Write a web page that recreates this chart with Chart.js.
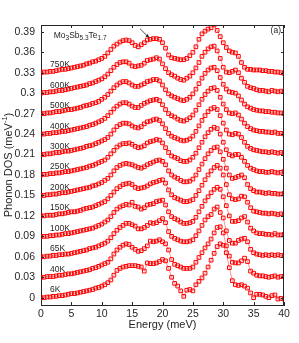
<!DOCTYPE html>
<html><head><meta charset="utf-8">
<script src="https://cdn.jsdelivr.net/npm/chart.js@4.4.1/dist/chart.umd.min.js"></script>
<style>html,body{margin:0;padding:0;background:#fff;}canvas{display:block;}</style>
</head><body>
<canvas id="c" width="299" height="343"></canvas>
<script>
const energy = [0,0.5,1,1.5,2,2.5,3,3.5,4,4.5,5,5.5,6,6.5,7,7.5,8,8.5,9,9.5,10,10.5,11,11.5,12,12.5,13,13.5,
  14,14.5,15,15.5,16,16.5,17,17.5,18,18.5,19,19.5,20,20.5,21,21.5,22,22.5,23,23.5,24,24.5,25,25.5,26,26.5,27,27.5,
  28,28.5,29,29.5,30,30.5,31,31.5,32,32.5,33,33.5,34,34.5,35,35.5,36,36.5,37,37.5,38,38.5,39,39.5,40];
const temperatures = ['6K','40K','65K','100K','150K','200K','250K','300K','400K','500K','600K','750K'];
const offsets = [0,0.03,0.06,0.09,0.12,0.15,0.18,0.21,0.24,0.27,0.30,0.33];

const dos6K = [0,0,.001,.001,.002,.002,.003,.003,.004,.005,.006,.006,.007,.008,.009,.010,.011,.012,.014,.015,.017,.019,.022,.026,.033,.040,.043,.045,
 .046,.047,.047,.047,.046,.045,.039,.051,.050,.050,.051,.053,.056,.054,.043,.030,.021,.017,.010,.002,.011,.012,.010,.019,.024,.029,.036,.045,.055,.065,
 .075,.079,.077,.066,.044,.025,.019,.018,.019,.017,.014,.007,.000,.005,.005,.004,.002,.000,.003,.004,-.002,-.001,-.002];
const dos40K = [0,0,.001,.001,.001,.002,.003,.003,.004,.005,.005,.006,.007,.008,.009,.010,.011,.013,.014,.016,.018,.020,.022,.027,.034,.040,.044,.047,
 .049,.048,.044,.041,.038,.039,.042,.046,.053,.052,.053,.055,.052,.049,.040,.026,.019,.017,.015,.013,.013,.013,.015,.022,.029,.036,.043,.049,.056,.065,
 .073,.074,.065,.046,.031,.022,.021,.021,.024,.028,.023,.009,.006,.003,.002,.002,.001,.000,.001,.002,.000,.001,.001];
const dos65K = [0,0,.001,.001,.002,.002,.003,.003,.004,.004,.005,.006,.007,.008,.009,.010,.012,.013,.014,.016,.018,.020,.023,.028,.034,.039,.043,.046,
 .049,.049,.047,.045,.041,.041,.043,.046,.050,.049,.050,.053,.056,.050,.037,.030,.027,.025,.023,.022,.022,.023,.025,.031,.038,.046,.054,.059,.062,.070,
 .073,.065,.057,.038,.024,.020,.020,.024,.026,.027,.022,.011,.006,.004,.003,.002,.003,.002,.003,.002,.003,.002,.002];
const dos100K = [0,0,0,.001,.001,.002,.002,.003,.004,.004,.005,.006,.007,.008,.009,.010,.011,.012,.014,.016,.018,.021,.024,.029,.035,.040,.043,.045,
 .047,.046,.050,.044,.043,.040,.042,.046,.047,.048,.051,.052,.053,.046,.036,.029,.026,.024,.021,.019,.019,.020,.022,.028,.036,.044,.052,.058,.064,.069,
 .072,.069,.058,.045,.030,.022,.022,.023,.027,.029,.021,.012,.008,.005,.004,.004,.003,.003,.002,.004,.002,.002,.003];
const dos150K = [0,0,.001,.001,.001,.002,.003,.003,.004,.005,.006,.006,.007,.008,.010,.011,.012,.013,.015,.017,.019,.021,.025,.030,.035,.040,.043,.046,
 .047,.048,.046,.042,.040,.041,.042,.044,.047,.049,.050,.052,.053,.048,.038,.031,.027,.025,.023,.021,.021,.022,.024,.030,.037,.045,.053,.060,.066,.071,
 .074,.070,.060,.046,.031,.025,.024,.025,.029,.028,.020,.012,.007,.006,.005,.004,.004,.003,.004,.003,.002,.003,.002];
const dos200K = [0,0,.001,.001,.002,.002,.003,.004,.004,.005,.006,.007,.008,.009,.010,.011,.012,.014,.015,.017,.019,.022,.025,.030,.036,.041,.044,.046,
 .047,.046,.045,.043,.041,.040,.042,.045,.047,.049,.051,.052,.050,.045,.036,.030,.027,.025,.022,.020,.020,.021,.024,.030,.038,.046,.054,.061,.066,.070,
 .071,.064,.053,.040,.030,.025,.026,.028,.030,.026,.016,.010,.007,.005,.005,.004,.003,.004,.003,.003,.002,.002,.003];
const dos250K = [0,.001,.001,.002,.002,.003,.003,.004,.005,.005,.006,.007,.008,.009,.010,.011,.013,.014,.016,.018,.020,.022,.026,.031,.036,.041,.044,.046,
 .046,.047,.045,.042,.040,.041,.043,.047,.049,.050,.052,.051,.047,.040,.033,.028,.026,.024,.021,.020,.020,.022,.026,.032,.040,.048,.056,.062,.067,.070,
 .068,.060,.048,.037,.030,.028,.030,.030,.026,.020,.014,.010,.008,.006,.005,.005,.004,.004,.005,.004,.003,.004,.005];
const dos300K = [0,0,.001,.001,.002,.003,.003,.004,.005,.005,.006,.007,.008,.009,.010,.012,.013,.014,.016,.018,.020,.022,.025,.030,.036,.041,.044,.046,
 .046,.045,.042,.040,.039,.041,.045,.048,.049,.051,.052,.050,.045,.038,.031,.027,.025,.023,.021,.020,.021,.023,.027,.034,.042,.050,.057,.063,.067,.069,
 .066,.057,.046,.036,.030,.029,.031,.030,.025,.018,.012,.009,.007,.006,.005,.004,.004,.003,.004,.003,.002,.003,.002];
const dos400K = [0,0,.001,.001,.002,.002,.003,.004,.004,.005,.006,.007,.008,.009,.010,.011,.013,.014,.016,.018,.020,.023,.027,.032,.037,.041,.044,.046,
 .046,.044,.041,.039,.039,.042,.045,.047,.049,.050,.051,.049,.043,.036,.030,.027,.025,.022,.020,.019,.021,.024,.028,.035,.043,.051,.058,.063,.067,.068,
 .064,.054,.044,.036,.031,.030,.031,.028,.022,.016,.011,.008,.006,.005,.004,.004,.003,.003,.002,.003,.001,.001,.000];
const dos500K = [0,0,.001,.001,.002,.003,.003,.004,.005,.006,.006,.007,.008,.009,.011,.012,.013,.015,.016,.018,.021,.024,.028,.033,.038,.042,.045,.047,
 .047,.045,.042,.040,.040,.042,.044,.047,.048,.050,.050,.048,.042,.035,.029,.026,.024,.022,.020,.019,.021,.024,.029,.036,.044,.052,.059,.064,.067,.068,
 .063,.053,.043,.036,.032,.031,.030,.026,.020,.014,.010,.008,.006,.005,.004,.004,.003,.003,.002,.002,.001,.001,.000];
const dos600K = [0,.001,.001,.002,.002,.003,.004,.004,.005,.006,.007,.008,.009,.010,.011,.012,.014,.015,.017,.019,.021,.024,.028,.033,.038,.042,.045,.046,
 .046,.044,.040,.039,.040,.041,.044,.048,.049,.050,.052,.050,.043,.036,.030,.027,.025,.022,.020,.019,.022,.025,.030,.037,.045,.054,.060,.065,.068,.069,
 .062,.051,.038,.031,.030,.032,.034,.030,.022,.016,.010,.008,.007,.005,.004,.004,.003,.002,.004,.003,.002,.003,.002];
const dos750K = [0,.001,.001,.002,.002,.003,.004,.005,.005,.006,.007,.008,.009,.010,.011,.013,.014,.016,.017,.019,.021,.024,.029,.034,.039,.042,.045,.047,
 .048,.047,.044,.040,.038,.041,.044,.048,.049,.050,.050,.049,.044,.036,.026,.022,.021,.020,.019,.019,.021,.025,.030,.038,.049,.057,.061,.064,.066,.070,
 .062,.053,.044,.037,.032,.030,.029,.024,.015,.008,.005,.005,.004,.004,.004,.003,.003,.002,.002,.001,.001,.000,-.001];

const dosSeries = [dos6K,dos40K,dos65K,dos100K,dos150K,dos200K,dos250K,dos300K,dos400K,dos500K,dos600K,dos750K];
const xTickValues = [0,5,10,15,20,25,30,35,40];
const yTickValues = [0,0.03,0.06,0.09,0.12,0.15,0.18,0.21,0.24,0.27,0.30,0.33,0.36,0.39];
const yTickLabels = ['0','0.03','0.06','0.09','0.12','0.15','0.18','0.21','0.24','0.27','0.3','0.33','0.36','0.39'];

const FONT = "'Liberation Sans', Arial, sans-serif";
const INK = '#262626';

const datasets = dosSeries.map((arr, k) => ({
  label: temperatures[k],
  data: arr.map((v, i) => ({x: energy[i], y: offsets[k] + v})),
  borderColor: 'rgba(255,0,0,0.55)',
  borderWidth: 0.8,
  pointStyle: 'rect',
  pointRadius: 2.6,
  pointBorderColor: '#ff0000',
  pointBorderWidth: 1,
  pointBackgroundColor: 'rgba(0,0,0,0)',
  fill: false,
  tension: 0
}));

function txt(ctx, s, x, y, size, align, base){
  ctx.font = size + 'px ' + FONT;
  ctx.textAlign = align || 'left';
  ctx.textBaseline = base || 'middle';
  ctx.fillText(s, x, y);
}

const overlay = {
  id: 'overlay',
  afterDraw(chart){
    const {ctx, chartArea: a, scales: {x, y}} = chart;
    ctx.save();
    ctx.strokeStyle = INK; ctx.lineWidth = 1;
    // top and right borders
    ctx.beginPath();
    ctx.moveTo(a.left, a.top + 0.5); ctx.lineTo(a.right, a.top + 0.5);
    ctx.moveTo(a.right - 0.5, a.top); ctx.lineTo(a.right - 0.5, a.bottom);
    ctx.stroke();
    // inward ticks
    ctx.beginPath();
    xTickValues.forEach(v => {
      const px = Math.round(x.getPixelForValue(v)) + 0.5;
      ctx.moveTo(px, a.bottom); ctx.lineTo(px, a.bottom - 3);
      ctx.moveTo(px, a.top); ctx.lineTo(px, a.top + 3);
    });
    yTickValues.forEach(v => {
      const py = Math.round(y.getPixelForValue(v)) + 0.5;
      ctx.moveTo(a.left, py); ctx.lineTo(a.left + 3, py);
      ctx.moveTo(a.right, py); ctx.lineTo(a.right - 3, py);
    });
    ctx.stroke();

    ctx.fillStyle = INK;
    // curve labels
    temperatures.forEach((t, k) => {
      txt(ctx, t, x.getPixelForValue(1.5), y.getPixelForValue(offsets[k] + 0.0115), 8.5, 'left', 'middle');
    });
    // compound label
    let cx = x.getPixelForValue(2.1), cy = y.getPixelForValue(0.385);
    const parts = [['Mo',0],['3',1],['Sb',0],['5.3',1],['Te',0],['1.7',1]];
    parts.forEach(([s, sub]) => {
      const sz = sub ? 6.5 : 8.5;
      ctx.font = sz + 'px ' + FONT;
      ctx.textAlign = 'left'; ctx.textBaseline = 'middle';
      ctx.fillText(s, cx, cy + (sub ? 3 : 0));
      cx += ctx.measureText(s).width;
    });
    // panel tag
    txt(ctx, '(a)', x.getPixelForValue(39.5), y.getPixelForValue(0.3915), 8.5, 'right', 'middle');
    // arrow
    const x0 = x.getPixelForValue(16.3), y0 = y.getPixelForValue(0.3945);
    const x1 = x.getPixelForValue(17.8), y1 = y.getPixelForValue(0.3813);
    ctx.beginPath(); ctx.moveTo(x0, y0); ctx.lineTo(x1, y1); ctx.lineWidth = 0.8; ctx.stroke();
    const ang = Math.atan2(y1 - y0, x1 - x0);
    ctx.beginPath();
    ctx.moveTo(x1, y1);
    ctx.lineTo(x1 - 4 * Math.cos(ang - 0.45), y1 - 4 * Math.sin(ang - 0.45));
    ctx.lineTo(x1 - 4 * Math.cos(ang + 0.45), y1 - 4 * Math.sin(ang + 0.45));
    ctx.closePath(); ctx.fill();
    // axis titles
    txt(ctx, 'Energy (meV)', (a.left + a.right) / 2, 325, 11, 'center', 'middle');
    ctx.save();
    ctx.translate(9, (a.top + a.bottom) / 2);
    ctx.rotate(-Math.PI / 2);
    ctx.font = '11px ' + FONT;
    const main = 'Phonon DOS (meV', close = ')';
    const w1 = ctx.measureText(main).width, w3 = ctx.measureText(close).width;
    ctx.font = '7.5px ' + FONT;
    const w2 = ctx.measureText('-1').width;
    let sx = -(w1 + w2 + w3) / 2;
    txt(ctx, main, sx, 0, 11, 'left', 'middle'); sx += w1;
    txt(ctx, '-1', sx, -4, 7.5, 'left', 'middle'); sx += w2;
    txt(ctx, close, sx, 0, 11, 'left', 'middle');
    ctx.restore();
    ctx.restore();
  }
};

new Chart(document.getElementById('c'), {
  type: 'line',
  data: {datasets},
  options: {
    responsive: false, animation: false, devicePixelRatio: 1,
    layout: {padding: {left: 0, right: 15, top: 25, bottom: 0}},
    plugins: {legend: {display: false}, tooltip: {enabled: false}},
    scales: {
      x: {
        type: 'linear', min: 0, max: 40,
        afterBuildTicks: s => { s.ticks = xTickValues.map(v => ({value: v})); },
        afterFit: s => { s.height = 38; },
        grid: {display: false, drawTicks: false},
        border: {display: true, color: INK, width: 1},
        ticks: {padding: 3, color: INK, font: {family: FONT, size: 10.5}, maxRotation: 0,
                callback: v => String(v)}
      },
      y: {
        type: 'linear', min: -0.0107, max: 0.4,
        afterBuildTicks: s => { s.ticks = yTickValues.map(v => ({value: v})); },
        afterFit: s => { s.width = 41; },
        grid: {display: false, drawTicks: false},
        border: {display: true, color: INK, width: 1},
        ticks: {padding: 6, color: INK, font: {family: FONT, size: 10.5},
                callback: (v, i) => yTickLabels[i]}
      }
    }
  },
  plugins: [overlay]
});
</script>
</body></html>
